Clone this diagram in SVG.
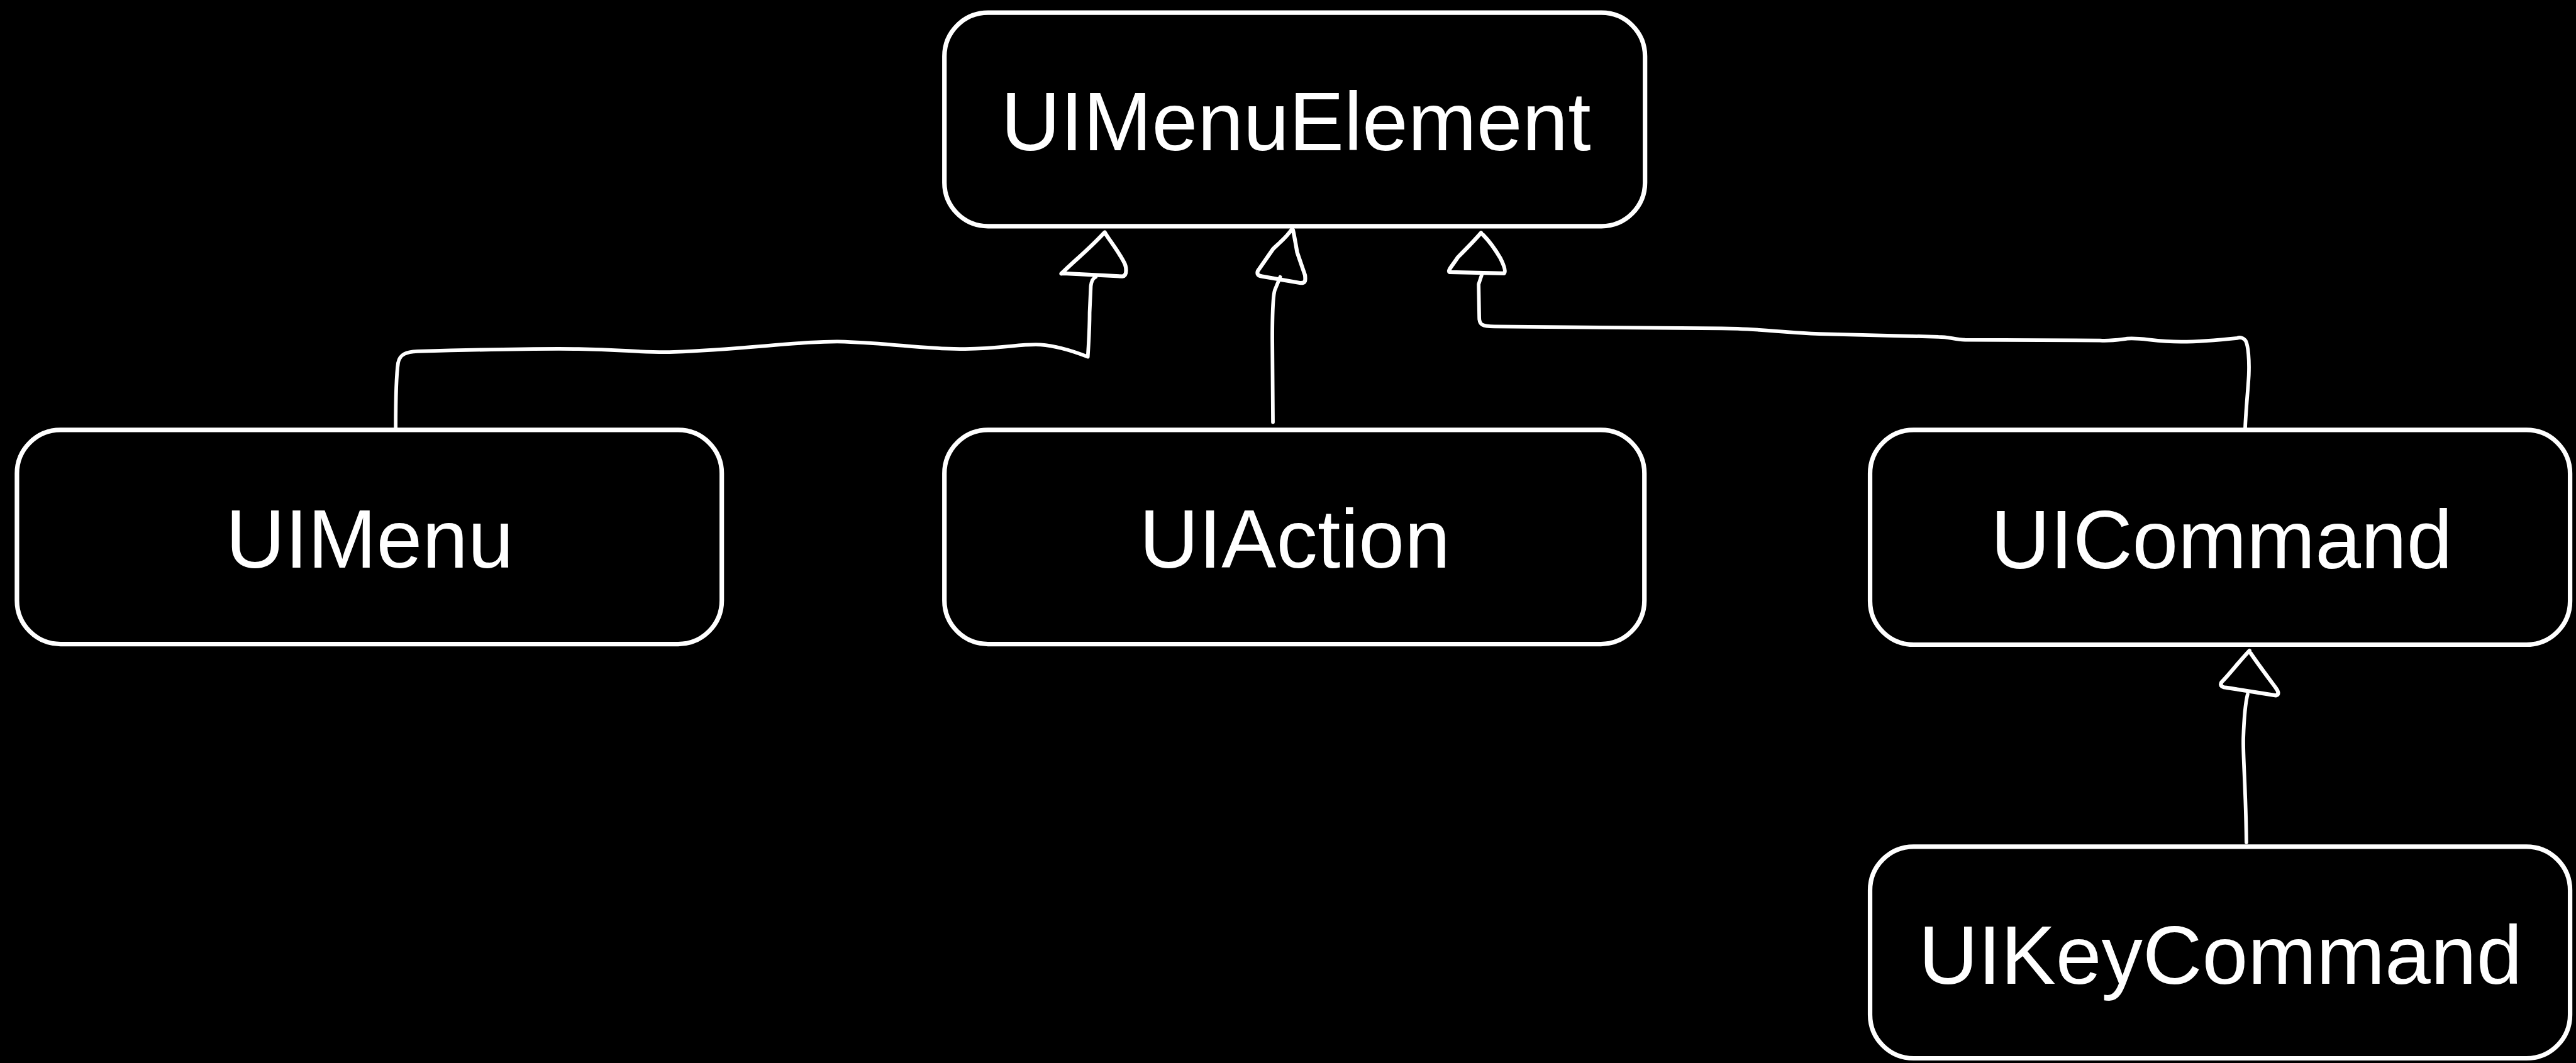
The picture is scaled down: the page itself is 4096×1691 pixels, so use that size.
<svg xmlns="http://www.w3.org/2000/svg" width="4096" height="1691" viewBox="0 0 4096 1691">
<style>
.box{fill:#000;stroke:#fff;stroke-width:7.5}
.lbl{fill:#fff;font-family:"Liberation Sans",Arial,Helvetica,sans-serif;font-size:136px;text-anchor:middle}
.con{fill:none;stroke:#fff;stroke-width:6;stroke-linecap:round;stroke-linejoin:round}
.head{fill:none;stroke:#fff;stroke-width:6.5;stroke-linecap:round;stroke-linejoin:round}
</style>
<rect x="0" y="0" width="4096" height="1691" fill="#000"/>
<g transform="scale(0.962)">
<g id="node-UIMenuElement">
<rect class="box" x="1561" y="21" width="1158" height="353" rx="72" ry="72"/>
<text class="lbl" x="2142" y="248">UIMenuElement</text>
</g>
<g id="node-UIMenu">
<rect class="box" x="28" y="711" width="1165" height="354" rx="72" ry="72"/>
<text class="lbl" x="611" y="939">UIMenu</text>
</g>
<g id="node-UIAction">
<rect class="box" x="1561" y="711" width="1157" height="354" rx="72" ry="72"/>
<text class="lbl" x="2140" y="939">UIAction</text>
</g>
<g id="node-UICommand">
<rect class="box" x="3091" y="711" width="1157" height="355" rx="72" ry="72"/>
<text class="lbl" x="3672" y="940">UICommand</text>
</g>
<g id="node-UIKeyCommand">
<rect class="box" x="3091" y="1400" width="1157" height="350" rx="72" ry="72"/>
<text class="lbl" x="3670" y="1627">UIKeyCommand</text>
</g>
<g id="connectors">
<path class="con" d="M654,708 C654,650 655,620 658,600 C661,585 672,582 690,581 C800,578 900,576 957,577 C1030,578 1070,584 1114,582 C1230,578 1330,563 1396,565 C1480,568 1530,578 1595,577 C1660,576 1690,568 1720,570 C1750,572 1780,583 1798,590 C1800,560 1801,530 1801,517 L1803,473 C1804,465 1806,460 1811,458"/>
<path class="head" d="M1824,386 C1800,412 1775,432 1760,447 C1752,455 1753,452 1758,452 L1855,457 C1864,456 1862,440 1857,432 C1845,410 1832,395 1826,384"/>
<path class="con" d="M2104,698 L2103,560 C2103,520 2104,490 2107,480 L2116,458"/>
<path class="head" d="M2136,378 C2125,395 2110,405 2104,412 L2079,448 C2077,454 2080,456 2086,457 L2150,468 C2158,468 2158,464 2157,455 L2144,417 C2141,400 2139,388 2137,380"/>
<path class="con" d="M3711,708 C3712,680 3716,640 3717,620 C3718,595 3716,572 3712,564 C3709,559 3703,557 3698,559 C3670,562 3640,565 3605,565 C3560,565 3540,558 3516,560 C3500,562 3490,564 3471,563 L3248,562 C3230,561 3220,557 3204,557 L3007,552 C2950,550 2900,543 2846,543 L2470,540 C2450,540 2445,537 2445,525 L2444,470 L2449,455"/>
<path class="head" d="M2448,385 C2435,400 2420,415 2410,425 C2400,440 2392,448 2396,450 L2486,452 C2490,448 2484,435 2480,427 C2470,410 2458,395 2451,388"/>
<path class="con" d="M3713,1393 C3712,1300 3707,1250 3708,1220 C3709,1190 3712,1160 3715,1148"/>
<path class="head" d="M3718,1076 C3700,1095 3685,1115 3672,1128 C3668,1135 3675,1137 3680,1137 L3762,1150 C3768,1148 3765,1142 3762,1138 C3745,1115 3730,1095 3720,1080"/>
</g>
</g>
</svg>
